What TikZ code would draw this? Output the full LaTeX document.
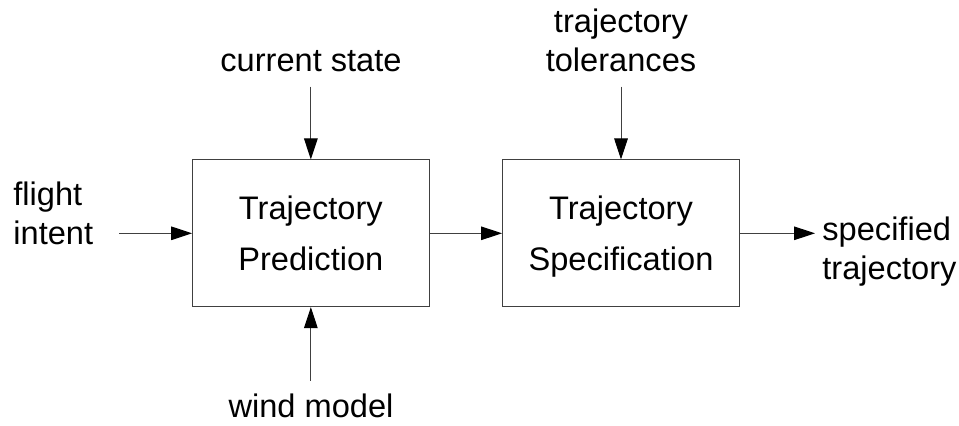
\documentclass[tikz,border=0pt]{standalone}
\usepackage{fontspec}
\setmainfont{Liberation Sans}
\usetikzlibrary{arrows.meta}
\tikzset{
  blockbox/.style={draw=black!75, line width=0.5pt, minimum width=118.3pt, minimum height=73.35pt,
    align=center, inner sep=0pt, text depth=0pt, font=\fontsize{16.3}{25.5}\selectfont},
  lbl/.style={inner sep=0pt, font=\fontsize{16.3}{19.5}\selectfont},
  flow/.style={draw=black!75, line width=0.5pt, -{Triangle[length=10.5pt,width=6.8pt,color=black]}}
}
\begin{document}
\begin{tikzpicture}[x=0.5pt,y=-0.5pt]
\useasboundingbox (0,0) rectangle (959,426);
\node[blockbox] (b1) at (310.85,233.3) {Trajectory\\Prediction};
\node[blockbox, minimum width=118.5pt] (b2) at (621,233.3) {Trajectory\\Specification};
\node[lbl, align=left, anchor=base west] (fi) at (13,245) {flight\\intent};
\node[lbl, anchor=base] (cs) at (311,72) {current state};
\node[lbl, align=center, anchor=base] (tt) at (621,72) {trajectory\\tolerances};
\node[lbl, anchor=base] (wm) at (311,418) {wind model};
\node[lbl, align=left, anchor=base west] (st) at (822,280) {specified\\trajectory};
\coordinate (fiA) at (119,233.3);
\coordinate (csA) at (310.85,86.7);
\coordinate (ttA) at (621,86.7);
\coordinate (wmA) at (310.85,380.7);
\coordinate (stA) at (815,233.3);
\draw[flow] (fiA) -- (b1.west);
\draw[flow] (csA) -- (b1.north);
\draw[flow] (wmA) -- (b1.south);
\draw[flow] (b1.east) -- (b2.west);
\draw[flow] (ttA) -- (b2.north);
\draw[flow] (b2.east) -- (stA);
\end{tikzpicture}
\end{document}
